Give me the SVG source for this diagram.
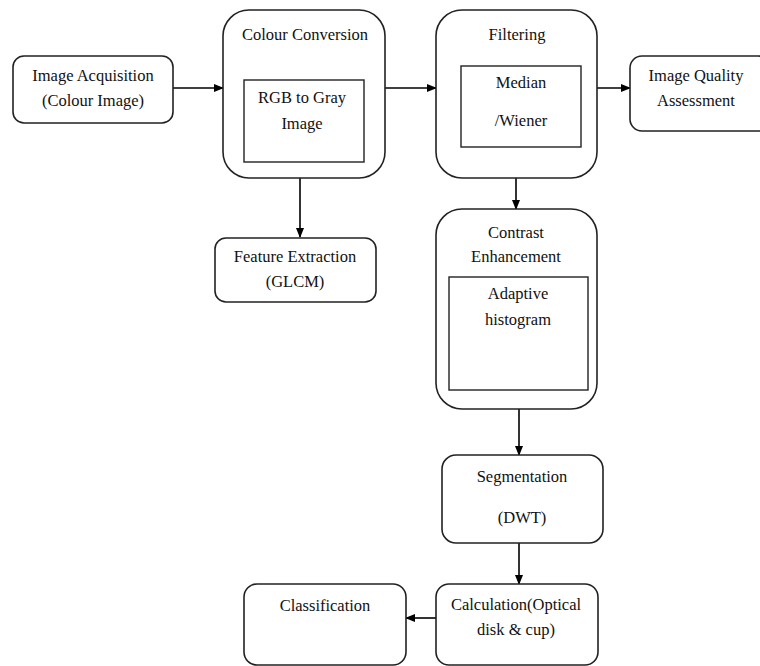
<svg xmlns="http://www.w3.org/2000/svg" width="760" height="666" viewBox="0 0 760 666">
<defs>
<marker id="ah" markerWidth="10" markerHeight="8" refX="9" refY="4" orient="auto" markerUnits="userSpaceOnUse">
<path d="M0,0 L10,4 L0,8 Z" fill="#000"/>
</marker>
<style>
.box{fill:#fff;stroke:#222;stroke-width:1.6}
.in{fill:#fff;stroke:#222;stroke-width:1.4}
text{font-family:"Liberation Serif","Times New Roman",serif;font-size:16.5px;fill:#111;text-anchor:middle}
.c{stroke:#000;stroke-width:1.6;fill:none;marker-end:url(#ah)}
</style>
</defs>
<rect width="760" height="666" fill="#fff"/>
<g id="connectors">
<line class="c" x1="173" y1="88" x2="223" y2="88"/>
<line class="c" x1="385" y1="88" x2="436" y2="88"/>
<line class="c" x1="597" y1="88" x2="630" y2="88"/>
<line class="c" x1="300" y1="178" x2="300" y2="237"/>
<line class="c" x1="516" y1="178" x2="516" y2="209"/>
<line class="c" x1="519" y1="409" x2="519" y2="455"/>
<line class="c" x1="519" y1="543" x2="519" y2="584"/>
<line class="c" x1="436" y1="618" x2="406" y2="618"/>
</g>
<g id="image-acquisition">
<rect class="box" x="13" y="56" width="160" height="67" rx="11"/>
<text x="93" y="81">Image Acquisition</text>
<text x="93" y="106">(Colour Image)</text>
</g>
<g id="colour-conversion">
<rect class="box" x="223" y="10" width="162" height="168" rx="26"/>
<text x="305" y="40">Colour Conversion</text>
<rect class="in" x="244" y="80" width="120" height="82"/>
<text x="302" y="103">RGB to Gray</text>
<text x="302" y="129">Image</text>
</g>
<g id="filtering">
<rect class="box" x="436" y="10" width="161" height="168" rx="26"/>
<text x="517" y="40">Filtering</text>
<rect class="in" x="461" y="66" width="120" height="81"/>
<text x="521" y="88">Median</text>
<text x="521" y="126">/Wiener</text>
</g>
<g id="image-quality">
<rect class="box" x="630" y="56" width="140" height="75" rx="12"/>
<text x="696" y="81">Image Quality</text>
<text x="696" y="106">Assessment</text>
</g>
<g id="feature-extraction">
<rect class="box" x="215" y="238" width="161" height="64" rx="11"/>
<text x="295" y="262">Feature Extraction</text>
<text x="295" y="287">(GLCM)</text>
</g>
<g id="contrast-enhancement">
<rect class="box" x="436" y="209" width="161" height="200" rx="26"/>
<text x="516" y="238">Contrast</text>
<text x="516" y="262">Enhancement</text>
<rect class="in" x="449" y="277" width="139" height="113"/>
<text x="518" y="299">Adaptive</text>
<text x="518" y="325">histogram</text>
</g>
<g id="segmentation">
<rect class="box" x="442" y="455" width="161" height="88" rx="14"/>
<text x="522" y="482">Segmentation</text>
<text x="522" y="523">(DWT)</text>
</g>
<g id="calculation">
<rect class="box" x="436" y="584" width="162" height="81" rx="13"/>
<text x="516" y="610">Calculation(Optical</text>
<text x="516" y="635">disk &amp; cup)</text>
</g>
<g id="classification">
<rect class="box" x="244" y="584" width="162" height="81" rx="13"/>
<text x="325" y="611">Classification</text>
</g>
</svg>
